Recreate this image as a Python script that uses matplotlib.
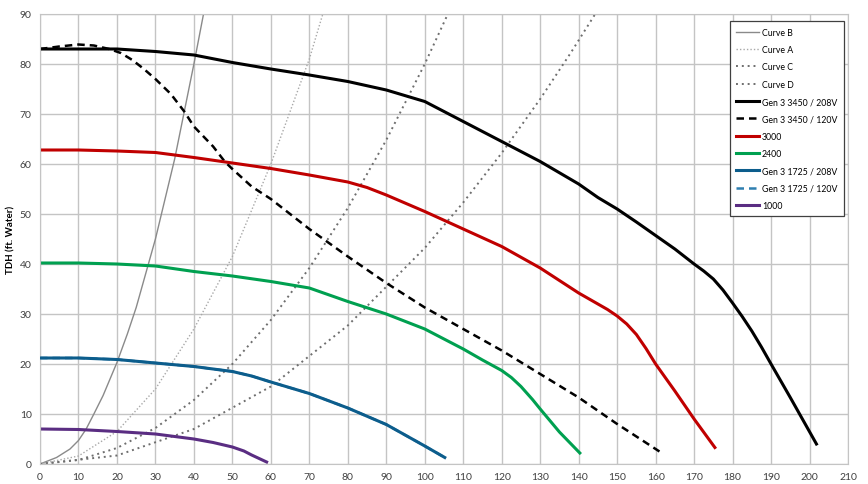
import numpy as np
import matplotlib
matplotlib.use('Agg')
from matplotlib import pyplot as plt

plt.rcParams['font.family'] = ['Lato', 'DejaVu Sans']

# system curves (flow, head)
curve_b_x = [0, 4.3, 7.8, 10, 12, 14, 16.4, 20, 22.7, 25, 30, 35, 40, 42.5]
curve_b_y = [0, 1.3, 3, 4.7, 7, 10, 13.7, 20.3, 26, 31.3, 45, 61, 80, 90]
curve_a_x = [0, 10, 20, 30, 40, 50, 60, 65, 70, 73.5]
curve_a_y = [0, 1.6, 6.5, 15, 27, 41.5, 60, 70.5, 81, 90]
curve_c_x = [0, 10, 20, 30, 40, 50, 60, 70, 80, 90, 100, 106]
curve_c_y = [0, 0.8, 3.2, 7.2, 12.8, 20, 28.8, 39.2, 51.2, 64.8, 80, 90]
curve_d_x = [0, 20, 40, 60, 80, 100, 110, 120, 130, 138, 144.3]
curve_d_y = [0, 1.7, 7, 15.5, 27.7, 43.2, 52.3, 62.2, 73, 82.3, 90]

# pump curves
g3450_208_x = [0, 10, 20, 30, 40, 50, 60, 70, 80, 90, 100, 110, 120, 130, 140, 145, 150, 155, 160, 165,
               170, 172.5, 175, 177.5, 180, 182.5, 185, 187.5, 190, 195, 201.8]
g3450_208_y = [83, 83, 83, 82.5, 81.8, 80.3, 79, 77.8, 76.5, 74.8, 72.5, 68.5, 64.5, 60.5, 56, 53.3, 51, 48.4, 45.7, 43,
               40, 38.6, 37, 34.8, 32.2, 29.5, 26.6, 23.4, 20, 13.3, 4]
g3450_120_x = [0, 5, 10, 14, 18, 21, 24, 27, 30, 34, 37.5, 40, 45, 48, 50, 55, 60, 70, 80, 90, 100, 110, 120, 130, 140, 150, 161]
g3450_120_y = [83, 83.5, 83.9, 83.7, 83, 82.2, 80.8, 79, 77, 74, 70.5, 67.5, 63.5, 60.5, 59, 55.5, 53, 47, 41.5, 36.2, 31.3, 27, 22.7, 18, 13.3, 8, 2.5]
s3000_x = [0, 10, 20, 30, 40, 50, 60, 70, 80, 85, 90, 100, 110, 120, 130, 140, 145, 147.5, 150, 152.5, 155, 157.5, 160, 165, 170, 175.4]
s3000_y = [62.8, 62.8, 62.6, 62.3, 61.3, 60.2, 59.1, 57.8, 56.4, 55.3, 53.8, 50.5, 47, 43.5, 39.2, 34.2, 32, 30.9, 29.6, 28, 25.9, 23.1, 20, 14.6, 9, 3.3]
s2400_x = [0, 10, 20, 30, 40, 50, 60, 70, 80, 90, 100, 110, 115, 120, 122.5, 125, 128, 130, 135, 140.3]
s2400_y = [40.2, 40.2, 40, 39.6, 38.5, 37.6, 36.5, 35.2, 32.5, 30, 27, 23, 20.8, 18.7, 17.3, 15.5, 12.9, 11, 6.4, 2.2]
g1725_x = [0, 10, 20, 30, 40, 50, 55, 60, 70, 80, 90, 100, 105.2]
g1725_y = [21.2, 21.2, 20.9, 20.2, 19.5, 18.5, 17.6, 16.4, 14.1, 11.2, 7.9, 3.6, 1.3]
s1000_x = [0, 10, 20, 30, 40, 45, 50, 53, 55, 58.9]
s1000_y = [7, 6.9, 6.5, 6, 5, 4.3, 3.4, 2.6, 1.8, 0.4]

fig = plt.figure(figsize=(8.68, 4.85), dpi=100)
ax = fig.add_axes([40/868, 1-465/485, 808/868, 450/485])

ax.plot(curve_b_x, curve_b_y, color='#8a8a8a', lw=1.0, label='Curve B')
ax.plot(curve_a_x, curve_a_y, color='#a8a8a8', lw=1.0, ls=(0, (1, 1.5)), label='Curve A')
ax.plot(curve_c_x, curve_c_y, color='#6e6e6e', lw=1.4, ls=(0, (1, 2)), label='Curve C')
ax.plot(curve_d_x, curve_d_y, color='#6e6e6e', lw=1.4, ls=(0, (1, 2)), label='Curve D')
ax.plot(g3450_208_x, g3450_208_y, color='black', lw=2.2, label='Gen 3 3450 / 208V')
ax.plot(g3450_120_x, g3450_120_y, color='black', lw=1.8, ls=(0, (3, 2)), label='Gen 3 3450 / 120V')
ax.plot(s3000_x, s3000_y, color='#c00000', lw=2.2, label='3000')
ax.plot(s2400_x, s2400_y, color='#00a050', lw=2.2, label='2400')
ax.plot(g1725_x, g1725_y, color='#0c5d8c', lw=2.2, label='Gen 3 1725 / 208V', zorder=3)
ax.plot(g1725_x, g1725_y, color='#2f7fb0', lw=1.8, ls=(0, (3, 2)), label='Gen 3 1725 / 120V', zorder=2)
ax.plot(s1000_x, s1000_y, color='#5a2d82', lw=2.2, label='1000')

ax.set_xlim(0, 210)
ax.set_ylim(0, 90)
ax.set_xticks(range(0, 211, 10))
ax.set_yticks(range(0, 91, 10))
ax.grid(color='#c4c4c4', lw=1.0)
ax.set_axisbelow(True)
ax.tick_params(length=0, labelsize=7.5, labelcolor='#404040', pad=6)
for s in ax.spines.values():
    s.set_color('#c4c4c4')
ax.set_ylabel('TDH (ft. Water)', fontsize=7, fontweight='bold', labelpad=3)

leg = ax.legend(loc='upper right', bbox_to_anchor=(0.995, 0.984), borderaxespad=0, fontsize=6.3,
                frameon=True, fancybox=False, edgecolor='#404040', framealpha=1, handlelength=2.6,
                labelspacing=0.95, borderpad=0.75, handletextpad=0.35)
leg.get_frame().set_linewidth(0.9)

fig.savefig('out.png', dpi=100)
